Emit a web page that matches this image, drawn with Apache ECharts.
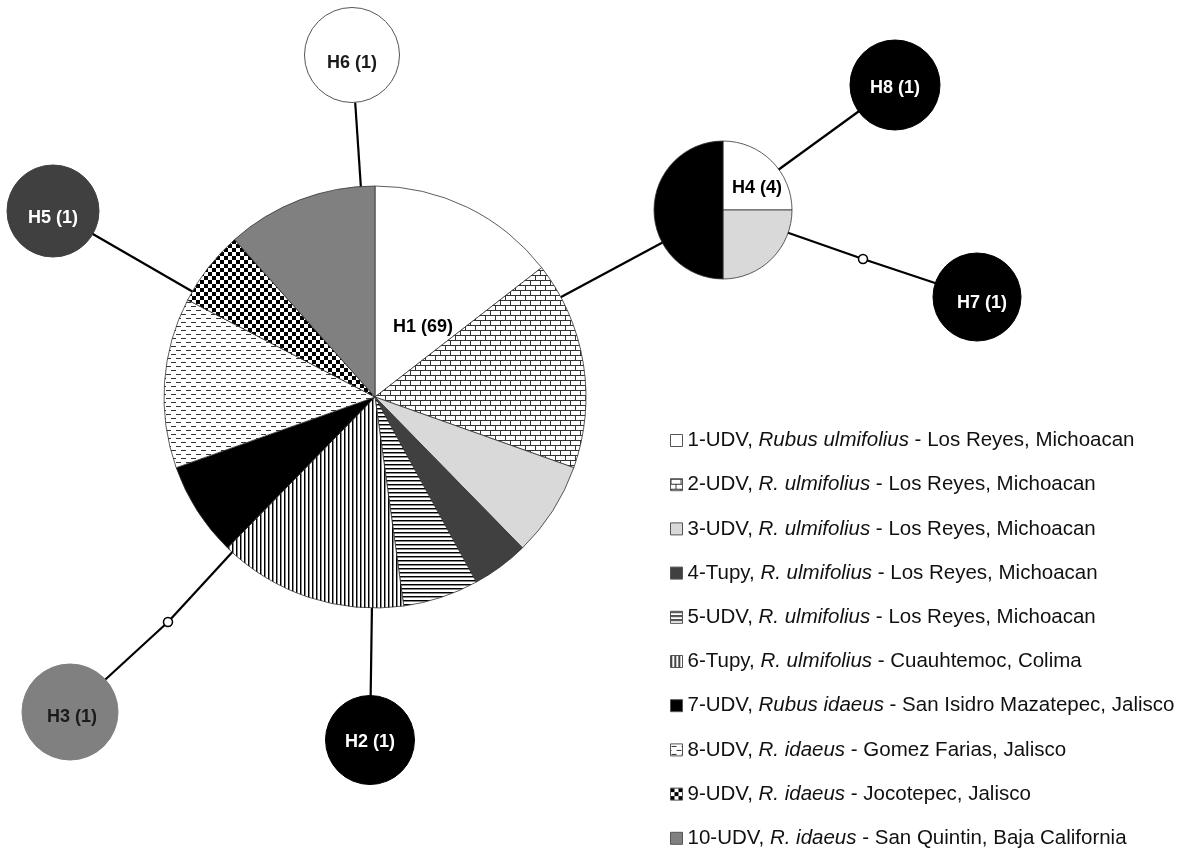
<!DOCTYPE html>
<html>
<head>
<meta charset="utf-8">
<title>Haplotype network</title>
<script src="https://cdn.jsdelivr.net/npm/echarts@6/dist/echarts.min.js"></script>
<style>
  html, body { margin: 0; padding: 0; background: #fff; }
  #chart { width: 1190px; height: 848px; }
</style>
</head>
<body>
<div id="chart"></div>
<script>
// Sample groups (legend order) and how many sequences each contributes
const groups = ['1-UDV', '2-UDV', '3-UDV', '4-Tupy', '5-UDV', '6-Tupy', '7-UDV', '8-UDV', '9-UDV', '10-UDV'];
const species = ['Rubus ulmifolius', 'R. ulmifolius', 'R. ulmifolius', 'R. ulmifolius', 'R. ulmifolius',
                 'R. ulmifolius', 'Rubus idaeus', 'R. idaeus', 'R. idaeus', 'R. idaeus'];
const localities = ['Los Reyes, Michoacan', 'Los Reyes, Michoacan', 'Los Reyes, Michoacan', 'Los Reyes, Michoacan',
                    'Los Reyes, Michoacan', 'Cuauhtemoc, Colima', 'San Isidro Mazatepec, Jalisco',
                    'Gomez Farias, Jalisco', 'Jocotepec, Jalisco', 'San Quintin, Baja California'];
const h1Counts = [10, 11, 5, 3, 4, 10, 5, 9, 4, 8];
const h4Counts = [1, 0, 1, 0, 0, 0, 2, 0, 0, 0];

// Haplotypes and their frequencies
const haplotypes = ['H1', 'H2', 'H3', 'H4', 'H5', 'H6', 'H7', 'H8'];
const hapCounts  = [69, 1, 1, 4, 1, 1, 1, 1];
// Group of origin for single-sequence haplotypes (group index)
const singletonGroup = { H2: 6, H3: 9, H5: 3, H6: 0, H7: 6, H8: 6 };

// Network edges (mv1, mv2 = missing intermediate haplotypes)
const links = [['H1', 'H6'], ['H1', 'H5'], ['H1', 'H4'], ['H4', 'H8'], ['H4', 'mv2'], ['mv2', 'H7'],
               ['H1', 'mv1'], ['mv1', 'H3'], ['H1', 'H2']];

// ---- layout (pixel space) ----
const W = 1190, H = 848;
const nodePos = {
  H1: [375, 397], H2: [370, 740], H3: [70, 712], H4: [723, 210], H5: [53, 211],
  H6: [352, 55], H7: [977, 297], H8: [895, 85], mv1: [168, 622], mv2: [863, 259]
};
const nodeSize = { H2: 89, H3: 96, H5: 92, H6: 95, H7: 88, H8: 90 };
const labelShift = { H2: [0, 2], H3: [2, 5], H5: [0, 7], H6: [0, 8], H7: [5, 6], H8: [0, 3] };
const pieRadius = { H1: 211, H4: 69 };

// ---- fills ----
function tile(w, h, draw) {
  const c = document.createElement('canvas');
  c.width = w; c.height = h;
  const ctx = c.getContext('2d');
  ctx.fillStyle = '#fff';
  ctx.fillRect(0, 0, w, h);
  draw(ctx);
  return { image: c, repeat: 'repeat' };
}
const fills = [
  '#ffffff',
  tile(10, 10, g => { g.fillStyle = '#333'; g.fillRect(0, 0, 10, 1); g.fillRect(0, 5, 10, 1); g.fillRect(0, 0, 1, 5); g.fillRect(5, 5, 1, 5); }),
  '#d9d9d9',
  '#404040',
  tile(4, 4, g => { g.fillStyle = '#000'; g.fillRect(0, 0, 4, 1); g.fillStyle = '#8a8a8a'; g.fillRect(0, 1, 4, 1); }),
  tile(4, 4, g => { g.fillStyle = '#000'; g.fillRect(0, 0, 1, 4); g.fillStyle = '#8a8a8a'; g.fillRect(1, 0, 1, 4); }),
  '#000000',
  tile(10, 8, g => { g.fillStyle = '#333'; g.fillRect(1, 2, 5, 1); g.fillRect(6, 6, 4, 1); g.fillRect(0, 6, 1, 1); }),
  tile(8, 8, g => { g.fillStyle = '#000'; g.fillRect(0, 0, 4, 4); g.fillRect(4, 4, 4, 4); }),
  '#808080'
];
const solidColor = ['#ffffff', '#ffffff', '#d9d9d9', '#404040', '#ffffff', '#ffffff', '#000000', '#ffffff', '#000000', '#808080'];

function pieData(counts) {
  return groups.map((g, i) => ({ name: g, value: counts[i], itemStyle: { color: fills[i] } }))
               .filter(d => d.value > 0);
}

const FONT = '"Liberation Sans", Arial, sans-serif';
const LEG_FS = 20.5;
const LEG_LH = 20;
const ROW_STEP = 44.2;
const ROW1_TOP = 430;

// one legend row per sample group, stacked at a fixed pitch
function legendRow(name, i) {
  return {
    orient: 'vertical', left: 670, top: ROW1_TOP + i * ROW_STEP, padding: 0,
    itemWidth: 12, itemHeight: 12,
    icon: 'rect', selectedMode: false,
    data: [name],
    itemStyle: { borderColor: '#555', borderWidth: 1 },
    formatter: n => {
      const k = groups.indexOf(n);
      return '{r|' + n + ', }{i|' + species[k] + '}{r| - ' + localities[k] + '}';
    },
    textStyle: {
      fontFamily: FONT, fontSize: LEG_FS, color: '#111', lineHeight: LEG_LH,
      rich: {
        r: { fontFamily: FONT, fontSize: LEG_FS, color: '#111', lineHeight: LEG_LH },
        i: { fontFamily: FONT, fontSize: LEG_FS, color: '#111', lineHeight: LEG_LH, fontStyle: 'italic' }
      }
    }
  };
}

// graph nodes: singletons are drawn as circles, pie haplotypes as hidden anchors
const graphNodes = Object.keys(nodePos).map(id => {
  const idx = haplotypes.indexOf(id);
  if (id.startsWith('mv')) {
    return { name: id, value: nodePos[id], symbolSize: 9,
             itemStyle: { color: '#fff', borderColor: '#000', borderWidth: 1.5 }, label: { show: false } };
  }
  if (pieRadius[id]) {
    return { name: id, value: nodePos[id], symbolSize: 1, itemStyle: { opacity: 0 }, label: { show: false } };
  }
  const gi = singletonGroup[id];
  const fill = solidColor[gi];
  const dark = fill === '#000000' || fill === '#404040';
  return {
    name: id, value: nodePos[id], symbolSize: nodeSize[id],
    itemStyle: { color: fill, borderColor: fill === '#ffffff' ? '#555' : fill, borderWidth: 1 },
    label: { show: true, formatter: id + ' (' + hapCounts[idx] + ')', offset: labelShift[id],
             color: dark ? '#fff' : '#1a1a1a' }
  };
});

const option = {
  animation: false,
  backgroundColor: '#fff',
  grid: { left: 0, right: 0, top: 0, bottom: 0 },
  xAxis: { type: 'value', min: 0, max: W, show: false },
  yAxis: { type: 'value', min: 0, max: H, inverse: true, show: false },
  legend: groups.map(legendRow),
  series: [
    {
      type: 'graph', coordinateSystem: 'cartesian2d', layout: 'none', z: 1, silent: true,
      data: graphNodes,
      links: links.map(l => ({ source: l[0], target: l[1] })),
      lineStyle: { color: '#000', width: 2.2, opacity: 1, curveness: 0 },
      label: { fontFamily: FONT, fontSize: 18, fontWeight: 'bold', position: 'inside' },
      emphasis: { disabled: true }
    },
    {
      type: 'pie', name: 'H1', z: 3, silent: true,
      center: nodePos.H1, radius: [0, pieRadius.H1],
      startAngle: 90, clockwise: true, label: { show: false }, labelLine: { show: false },
      itemStyle: { borderColor: '#333', borderWidth: 0.8 },
      data: pieData(h1Counts)
    },
    {
      type: 'pie', name: 'H4', z: 3, silent: true,
      center: nodePos.H4, radius: [0, pieRadius.H4],
      startAngle: 90, clockwise: true, label: { show: false }, labelLine: { show: false },
      itemStyle: { borderColor: '#333', borderWidth: 0.8 },
      data: pieData(h4Counts)
    },
    {
      // haplotype labels drawn over the pies
      type: 'scatter', z: 5, silent: true, symbolSize: 0,
      itemStyle: { opacity: 1 },
      data: [
        { value: nodePos.H1, name: 'H1', label: { offset: [48, -70] } },
        { value: nodePos.H4, name: 'H4', label: { offset: [34, -22] } }
      ],
      label: {
        show: true, position: 'inside', fontFamily: FONT, fontSize: 18, fontWeight: 'bold', color: '#000',
        opacity: 1,
        formatter: p => p.name + ' (' + hapCounts[haplotypes.indexOf(p.name)] + ')'
      }
    }
  ]
};

const chart = echarts.init(document.getElementById('chart'), null, { renderer: 'canvas' });
chart.setOption(option);
</script>
</body>
</html>
